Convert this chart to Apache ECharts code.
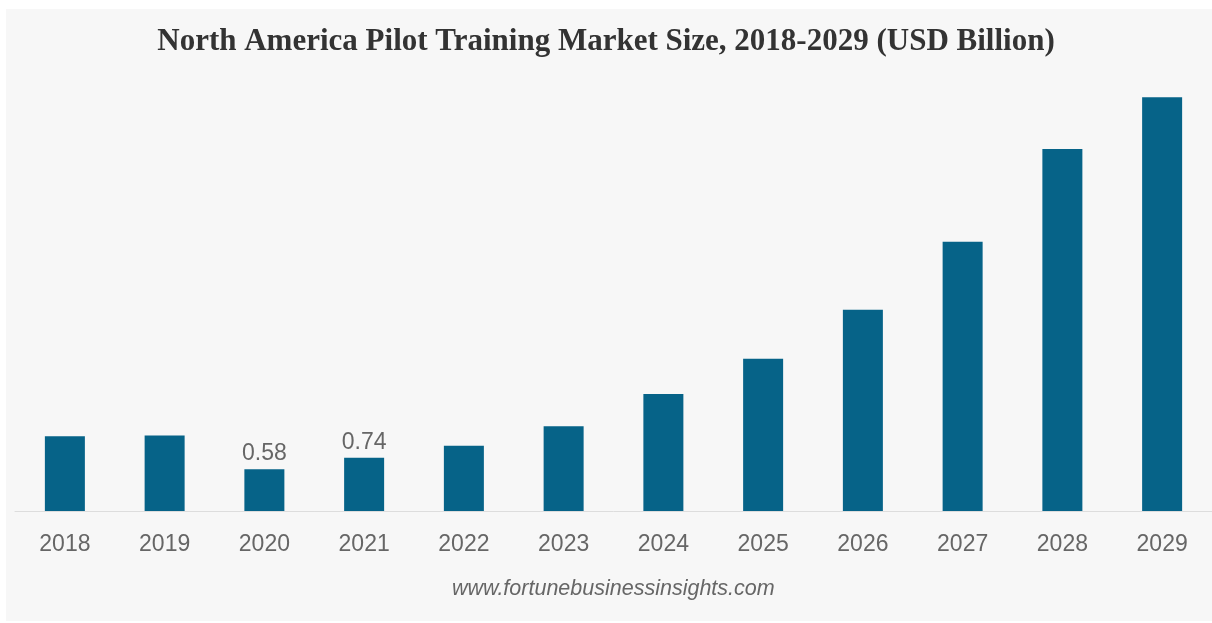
<!DOCTYPE html>
<html>
<head>
<meta charset="utf-8">
<script src="https://cdn.jsdelivr.net/npm/echarts@6/dist/echarts.min.js"></script>
<style>
  html, body { margin: 0; padding: 0; background: #ffffff; }
  #bg { position: absolute; left: 6px; top: 9px; width: 1206px; height: 612px; background: #f7f7f7; }
  #chart { position: absolute; left: 0; top: 0; width: 1212px; height: 623px; }
</style>
</head>
<body>
<div id="bg"></div>
<div id="chart"></div>
<script>
const titleText = 'North America Pilot Training Market Size, 2018-2029 (USD Billion)';
const sourceText = 'www.fortunebusinessinsights.com';
const years = ['2018', '2019', '2020', '2021', '2022', '2023', '2024', '2025', '2026', '2027', '2028', '2029'];
const marketSize = [1.04, 1.05, 0.58, 0.74, 0.91, 1.18, 1.63, 2.12, 2.80, 3.75, 5.04, 5.76];
const labelledYears = ['2020', '2021'];

const chart = echarts.init(document.getElementById('chart'), null, { renderer: 'canvas' });
chart.setOption({
  backgroundColor: 'transparent',
  animation: false,
  title: {
    text: titleText,
    left: 'center',
    top: 21,
    textStyle: {
      fontFamily: 'Liberation Serif',
      fontWeight: 'bold',
      fontSize: 31,
      color: '#333333'
    }
  },
  graphic: [{
    type: 'text',
    left: 452,
    top: 578,
    style: {
      text: sourceText,
      fontFamily: 'Liberation Sans',
      fontStyle: 'italic',
      fontSize: 21.5,
      fill: '#666666'
    }
  }],
  grid: { left: 15, top: 80, width: 1200, height: 431, containLabel: false },
  xAxis: {
    type: 'category',
    data: years,
    axisLine: { show: true, lineStyle: { color: '#dddddd', width: 1 } },
    axisTick: { show: false },
    axisLabel: {
      color: '#666666',
      fontFamily: 'Liberation Sans',
      fontSize: 23,
      margin: 22
    }
  },
  yAxis: {
    type: 'value',
    min: 0,
    max: 6,
    show: false,
    splitLine: { show: false }
  },
  series: [{
    type: 'bar',
    data: marketSize.map((v, i) => ({
      value: v,
      label: { show: labelledYears.includes(years[i]) }
    })),
    barWidth: 40,
    itemStyle: { color: '#066388' },
    label: {
      position: 'top',
      distance: 4,
      color: '#666666',
      fontFamily: 'Liberation Sans',
      fontSize: 23
    }
  }]
});
</script>
</body>
</html>
